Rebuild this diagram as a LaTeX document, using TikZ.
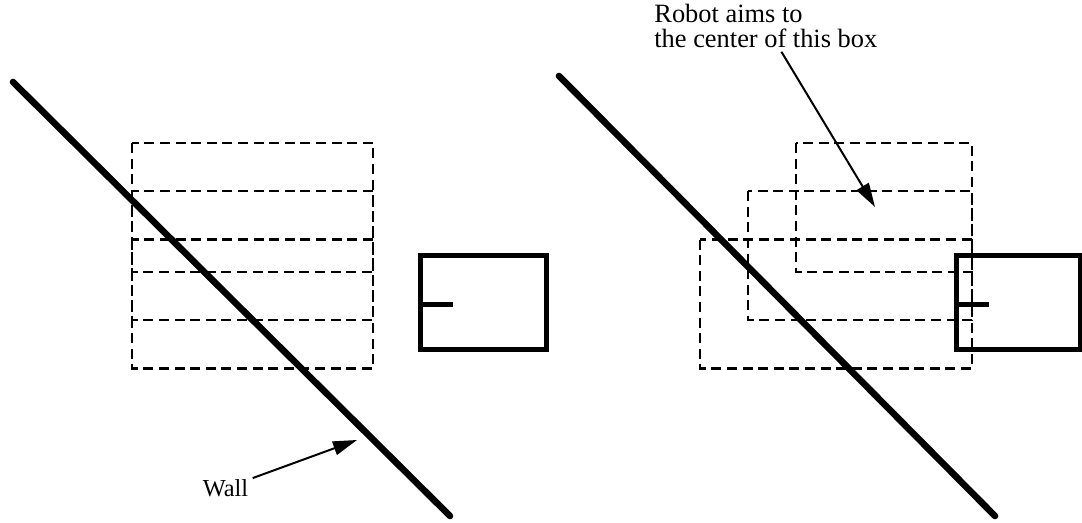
\documentclass[tikz,border=0pt]{standalone}
\usepackage{fontspec}
\setmainfont{Liberation Serif}
\usepackage{tikz}
\usetikzlibrary{positioning, arrows.meta}

\tikzset{
    wallline/.style={line width=3.3pt, line cap=round},
    scanbox/.style={line width=1.2pt, dash pattern=on 5pt off 2.8pt},
    robotbox/.style={line width=2.5pt},
    pointer/.style={line width=1pt, -{Triangle[length=12pt, width=7pt]}},
    lbl/.style={font=\fontsize{13.2}{12.2}\selectfont, inner sep=2pt}
}

\begin{document}
\begin{tikzpicture}[x=0.5pt, y=-0.5pt]
\useasboundingbox (0,0) rectangle (1082,523);

% Left: boxes stacked straight down
\foreach \i in {0,1,2} {
    \draw[scanbox] (132, 143+\i*48.3) rectangle (373, 272+\i*48.3);
}
\draw[robotbox] (420.5,256) rectangle (546,349.5);
\draw[robotbox] (420.5,304.5) -- (453,304.5);
\coordinate (wallAtop) at (13,82);
\coordinate (wallAbot) at (450,516);
\draw[wallline] (wallAtop) -- (wallAbot);

% Wall label
\coordinate (wallhit) at (357,440);
\node[lbl, font=\fontsize{12.2}{12}\selectfont] (walllabel) at (225.5,488) {Wall};
\draw[pointer] (walllabel) -- (wallhit);

% Right: boxes shifted down and to the left
\foreach \i in {0,1,2} {
    \draw[scanbox] (796-\i*48, 143+\i*48.3) rectangle (972, 272+\i*48.3);
}
\draw[robotbox] (956.5,256) rectangle (1080,350);
\draw[robotbox] (956.5,304.5) -- (989,304.5);
\coordinate (wallBtop) at (559,76);
\coordinate (wallBbot) at (995,516);
\draw[wallline] (wallBtop) -- (wallBbot);

% Aim label
\coordinate (aimpoint) at (875,207);
\node[lbl, align=left, anchor=north west] (aimlabel) at (650,0)
    {Robot aims to\\the center of this box};
\draw[pointer] (aimlabel) -- (aimpoint);
\end{tikzpicture}
\end{document}
